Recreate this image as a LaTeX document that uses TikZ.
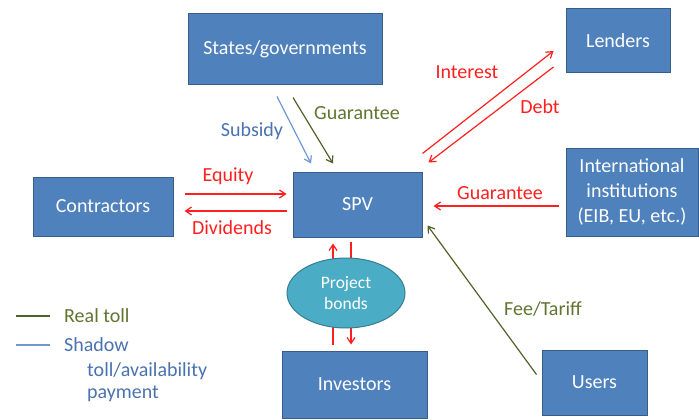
\documentclass[tikz,border=0pt]{standalone}
\usepackage{fontspec}
\setmainfont{Carlito}
\usetikzlibrary{arrows.meta,calc,shapes.geometric}
\definecolor{boxfill}{HTML}{4F81BD}
\definecolor{boxline}{HTML}{385D8A}
\definecolor{aquafill}{HTML}{4BACC6}
\definecolor{aqualine}{HTML}{357D91}
\definecolor{olive}{HTML}{5F7530}
\definecolor{oliveline}{HTML}{4F6228}
\definecolor{shadowtxt}{HTML}{4A72B0}
\definecolor{shadowline}{HTML}{6F97D2}
\definecolor{arrred}{HTML}{FF1F1F}
\tikzset{
  box/.style={draw=boxline, line width=1pt, fill=boxfill, text=white, font=\fontsize{20}{25}\selectfont, align=center, inner sep=0pt},
  bond/.style={ellipse, draw=aqualine, line width=1pt, fill=aquafill, text=white, font=\fontsize{17.5}{21}\selectfont, align=center, inner sep=0pt},
  lbl/.style={font=\fontsize{20}{23}\selectfont, inner sep=0pt},
  tip/.style={-{Straight Barb[length=6pt,width=8pt]}},
  redarr/.style={tip, draw=arrred, line width=1.2pt},
  olivearr/.style={tip, draw=oliveline, line width=1.2pt},
  bluearr/.style={tip, draw=shadowline, line width=1.2pt}
}
\begin{document}
\begin{tikzpicture}[x=1pt,y=-1pt]
\useasboundingbox (0,0) rectangle (699,420);
% boxes
\node[box, minimum width=194pt, minimum height=71pt] (states) at (285,49.5) {States/governments};
\node[box, minimum width=129pt, minimum height=65pt] (spv) at (357.5,204.5) {SPV};
\node[box, minimum width=104pt, minimum height=64pt] (lenders) at (618,41) {Lenders};
\node[box, minimum width=132pt, minimum height=88pt] (intl) at (632,192) {International\\institutions\\(EIB, EU, etc.)};
\node[box, minimum width=140pt, minimum height=59pt] (contractors) at (103,206.5) {Contractors};
\node[box, minimum width=145pt, minimum height=67pt] (investors) at (354.5,384.5) {Investors};
\node[box, minimum width=105pt, minimum height=65pt] (users) at (594.5,382.5) {Users};
% bond arrows (behind ellipse)
\draw[redarr] ($(investors.north)+(-21.5,-6)$) -- ($(spv.south)+(-24.5,6)$);
\draw[redarr] ($(spv.south)+(-6.5,4)$) -- ($(investors.north)+(-3.5,-6)$);
\node[bond, minimum width=118pt, minimum height=70pt] (bonds) at (346,293) {Project\\bonds};
% states arrows
\draw[bluearr] ($(states.south)+(-8,11)$) -- ($(spv.north)+(-46.5,-8)$);
\draw[olivearr] ($(states.south)+(8,12)$) -- ($(spv.north)+(-24.5,-8)$);
% lenders
\draw[redarr] ($(spv.north east)+(0,-18)$) -- ($(lenders.west)+(-12,10)$);
\draw[redarr] ($(lenders.west)+(-12,26)$) -- ($(spv.north east)+(6,-9)$);
% intl
\draw[redarr] ($(intl.west)+(-7,14)$) -- ($(spv.east)+(11,1.5)$);
% contractors
\draw[redarr] ($(contractors.east)+(11,-12.5)$) -- ($(spv.west)+(-6,-10.5)$);
\draw[redarr] ($(spv.west)+(-6,6.5)$) -- ($(contractors.east)+(11,4.5)$);
% users
\draw[olivearr] ($(users.north west)+(-5,25)$) -- ($(spv.south east)+(5,-12)$);
% labels
\node[lbl, text=shadowtxt] (lsub) at (252,131) {Subsidy};
\node[lbl, text=olive] (lguar) at (357,113) {Guarantee};
\node[lbl, text=arrred] (lint) at (467,72) {Interest};
\node[lbl, text=arrred] (ldebt) at (540,107) {Debt};
\node[lbl, text=arrred] (lguar2) at (500,193) {Guarantee};
\node[lbl, text=arrred] (leq) at (228,176) {Equity};
\node[lbl, text=arrred] (ldiv) at (232,228) {Dividends};
\node[lbl, text=olive] (lfee) at (543,309) {Fee/Tariff};
% legend
\coordinate (rt1) at (16,316);
\coordinate (rt2) at (50,316);
\draw[oliveline, line width=1.2pt] (rt1) -- (rt2);
\node[lbl, text=olive, anchor=west] (lreal) at (64,316) {Real toll};
\coordinate (sh1) at (16,345);
\coordinate (sh2) at (50,345);
\draw[shadowline, line width=1.5pt] (sh1) -- (sh2);
\node[lbl, text=shadowtxt, anchor=west] (lshadow) at (64,345) {Shadow};
\node[lbl, text=shadowtxt, anchor=west] (ltoll) at (87,371) {toll/availability};
\node[lbl, text=shadowtxt, anchor=west] (lpay) at (87,394) {payment};
\end{tikzpicture}
\end{document}
